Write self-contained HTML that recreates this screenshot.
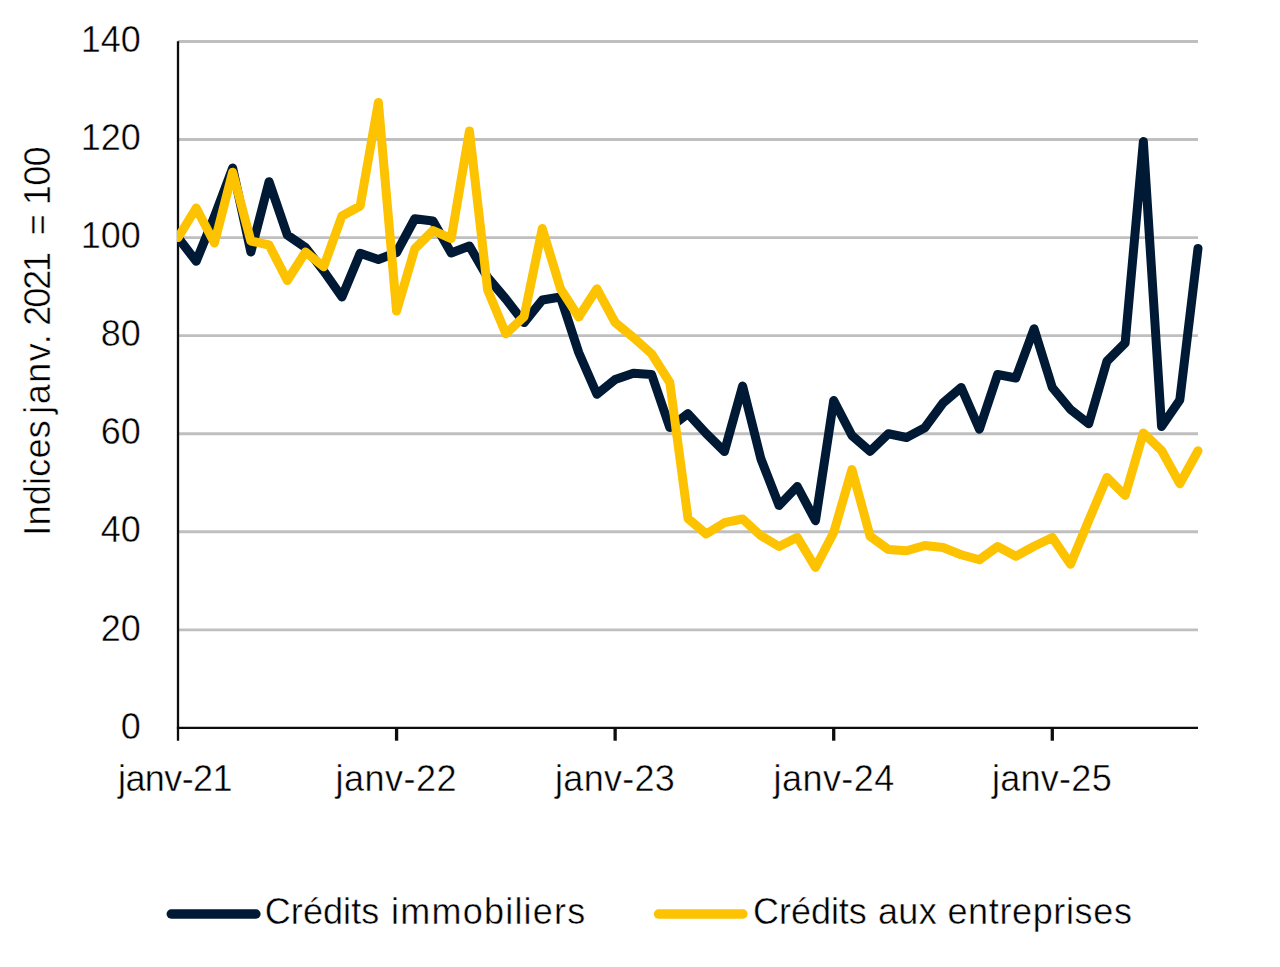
<!DOCTYPE html>
<html lang="fr"><head><meta charset="utf-8"><title>Indices de crédits</title>
<style>html,body{margin:0;padding:0;background:#fff;}body{width:1280px;height:967px;overflow:hidden;}svg{display:block;}text{font-family:"Liberation Sans",sans-serif;fill:#000;stroke:#fff;stroke-width:0.45px;}</style></head><body>
<svg width="1280" height="967" viewBox="0 0 1280 967">
<rect width="1280" height="967" fill="#fff"/>
<g stroke="#BFBFBF" stroke-width="2.9">
<line x1="178.0" y1="629.84" x2="1198.0" y2="629.84"/>
<line x1="178.0" y1="531.77" x2="1198.0" y2="531.77"/>
<line x1="178.0" y1="433.71" x2="1198.0" y2="433.71"/>
<line x1="178.0" y1="335.64" x2="1198.0" y2="335.64"/>
<line x1="178.0" y1="237.58" x2="1198.0" y2="237.58"/>
<line x1="178.0" y1="139.51" x2="1198.0" y2="139.51"/>
<line x1="178.0" y1="41.45" x2="1198.0" y2="41.45"/>
</g>
<g stroke="#0d0d0d" stroke-width="2.3">
<line x1="178.0" y1="41.2" x2="178.0" y2="740.7"/>
<line x1="176.85" y1="727.9" x2="1198.0" y2="727.9"/>
<line x1="396.57" y1="727.9" x2="396.57" y2="740.7" stroke-width="3.3"/>
<line x1="615.14" y1="727.9" x2="615.14" y2="740.7" stroke-width="3.3"/>
<line x1="833.71" y1="727.9" x2="833.71" y2="740.7" stroke-width="3.3"/>
<line x1="1052.29" y1="727.9" x2="1052.29" y2="740.7" stroke-width="3.3"/>
</g>
<defs><clipPath id="pc"><rect x="176.9" y="0" width="1104" height="967"/></clipPath></defs><g clip-path="url(#pc)">
<polyline fill="none" stroke="#001A35" stroke-width="9" stroke-linejoin="round" stroke-linecap="round" points="178.00,237.60 196.21,261.30 214.43,216.50 232.64,168.00 250.86,252.00 269.07,181.70 287.29,235.00 305.50,247.50 323.71,271.00 341.93,297.00 360.14,253.30 378.36,259.50 396.57,252.50 414.79,218.75 433.00,221.00 451.21,253.00 469.43,246.00 487.64,277.50 505.86,299.00 524.07,322.60 542.29,300.00 560.50,297.00 578.71,352.50 596.93,394.30 615.14,379.50 633.36,373.20 651.57,374.40 669.79,427.50 688.00,413.70 706.21,433.50 724.43,451.50 742.64,386.00 760.86,458.75 779.07,505.50 797.29,486.50 815.50,520.70 833.71,400.50 851.93,435.50 870.14,451.30 888.36,433.75 906.57,437.50 924.79,427.75 943.00,403.00 961.21,387.50 979.43,429.20 997.64,374.50 1015.86,378.00 1034.07,328.80 1052.29,387.50 1070.50,409.50 1088.71,423.70 1106.93,361.25 1125.14,343.00 1143.36,141.60 1161.57,426.50 1179.79,400.00 1198.00,248.40"/>
<polyline fill="none" stroke="#FDC200" stroke-width="9" stroke-linejoin="round" stroke-linecap="round" points="178.00,237.60 196.21,208.00 214.43,243.00 232.64,172.20 250.86,241.00 269.07,245.00 287.29,280.50 305.50,252.00 323.71,266.70 341.93,216.00 360.14,206.00 378.36,102.50 396.57,311.00 414.79,248.75 433.00,230.50 451.21,238.60 469.43,131.00 487.64,290.00 505.86,333.80 524.07,316.70 542.29,228.50 560.50,288.75 578.71,317.00 596.93,288.80 615.14,322.50 633.36,337.50 651.57,353.75 669.79,382.50 688.00,518.50 706.21,534.00 724.43,522.70 742.64,519.00 760.86,535.70 779.07,546.50 797.29,537.30 815.50,567.50 833.71,532.50 851.93,469.50 870.14,536.25 888.36,549.50 906.57,550.75 924.79,545.50 943.00,547.50 961.21,554.75 979.43,559.75 997.64,546.50 1015.86,556.30 1034.07,546.25 1052.29,537.50 1070.50,564.25 1088.71,520.50 1106.93,477.50 1125.14,495.40 1143.36,433.00 1161.57,450.50 1179.79,483.70 1198.00,450.80"/>
</g>
<g font-size="36" text-anchor="end">
<text x="140.8" y="738.60">0</text>
<text x="140.8" y="640.54">20</text>
<text x="140.8" y="542.47">40</text>
<text x="140.8" y="444.41">60</text>
<text x="140.8" y="346.34">80</text>
<text x="140.8" y="248.28">100</text>
<text x="140.8" y="150.21">120</text>
<text x="140.8" y="52.15">140</text>
</g>
<g font-size="36">
<text x="118" y="790.6" textLength="114.5" lengthAdjust="spacing">janv-21</text>
<text x="335.55" y="790.6" textLength="121" lengthAdjust="spacing">janv-22</text>
<text x="555.1" y="790.6" textLength="119.75" lengthAdjust="spacing">janv-23</text>
<text x="773.5" y="790.6" textLength="120.8" lengthAdjust="spacing">janv-24</text>
<text x="991.9" y="790.6" textLength="119.8" lengthAdjust="spacing">janv-25</text>
</g>
<g font-size="36" style="stroke-width:0.7px">
<text transform="translate(49.6,535.80) rotate(-90)" textLength="115.65" lengthAdjust="spacing">Indices</text>
<text transform="translate(49.6,413.80) rotate(-90)" textLength="79.53" lengthAdjust="spacing">janv.</text>
<text transform="translate(49.6,325.80) rotate(-90)" textLength="73.96" lengthAdjust="spacing">2021</text>
<text transform="translate(49.6,235.20) rotate(-90)" textLength="14.92" lengthAdjust="spacing">=</text>
<text transform="translate(49.6,205.20) rotate(-90)" textLength="58.85" lengthAdjust="spacing">100</text>
</g>
<line x1="171.2" y1="914" x2="256" y2="914" stroke="#001A35" stroke-width="9.3" stroke-linecap="round"/>
<line x1="658.5" y1="914" x2="743" y2="914" stroke="#FDC200" stroke-width="9.3" stroke-linecap="round"/>
<g font-size="36">
<text x="264.75" y="923.8" textLength="114.50" lengthAdjust="spacing">Crédits</text>
<text x="391.00" y="923.8" textLength="194.30" lengthAdjust="spacing">immobiliers</text>
<text x="753.00" y="923.8" textLength="113.80" lengthAdjust="spacing">Crédits</text>
<text x="878.00" y="923.8" textLength="58.70" lengthAdjust="spacing">aux</text>
<text x="947.40" y="923.8" textLength="184.50" lengthAdjust="spacing">entreprises</text>
</g>
</svg></body></html>
